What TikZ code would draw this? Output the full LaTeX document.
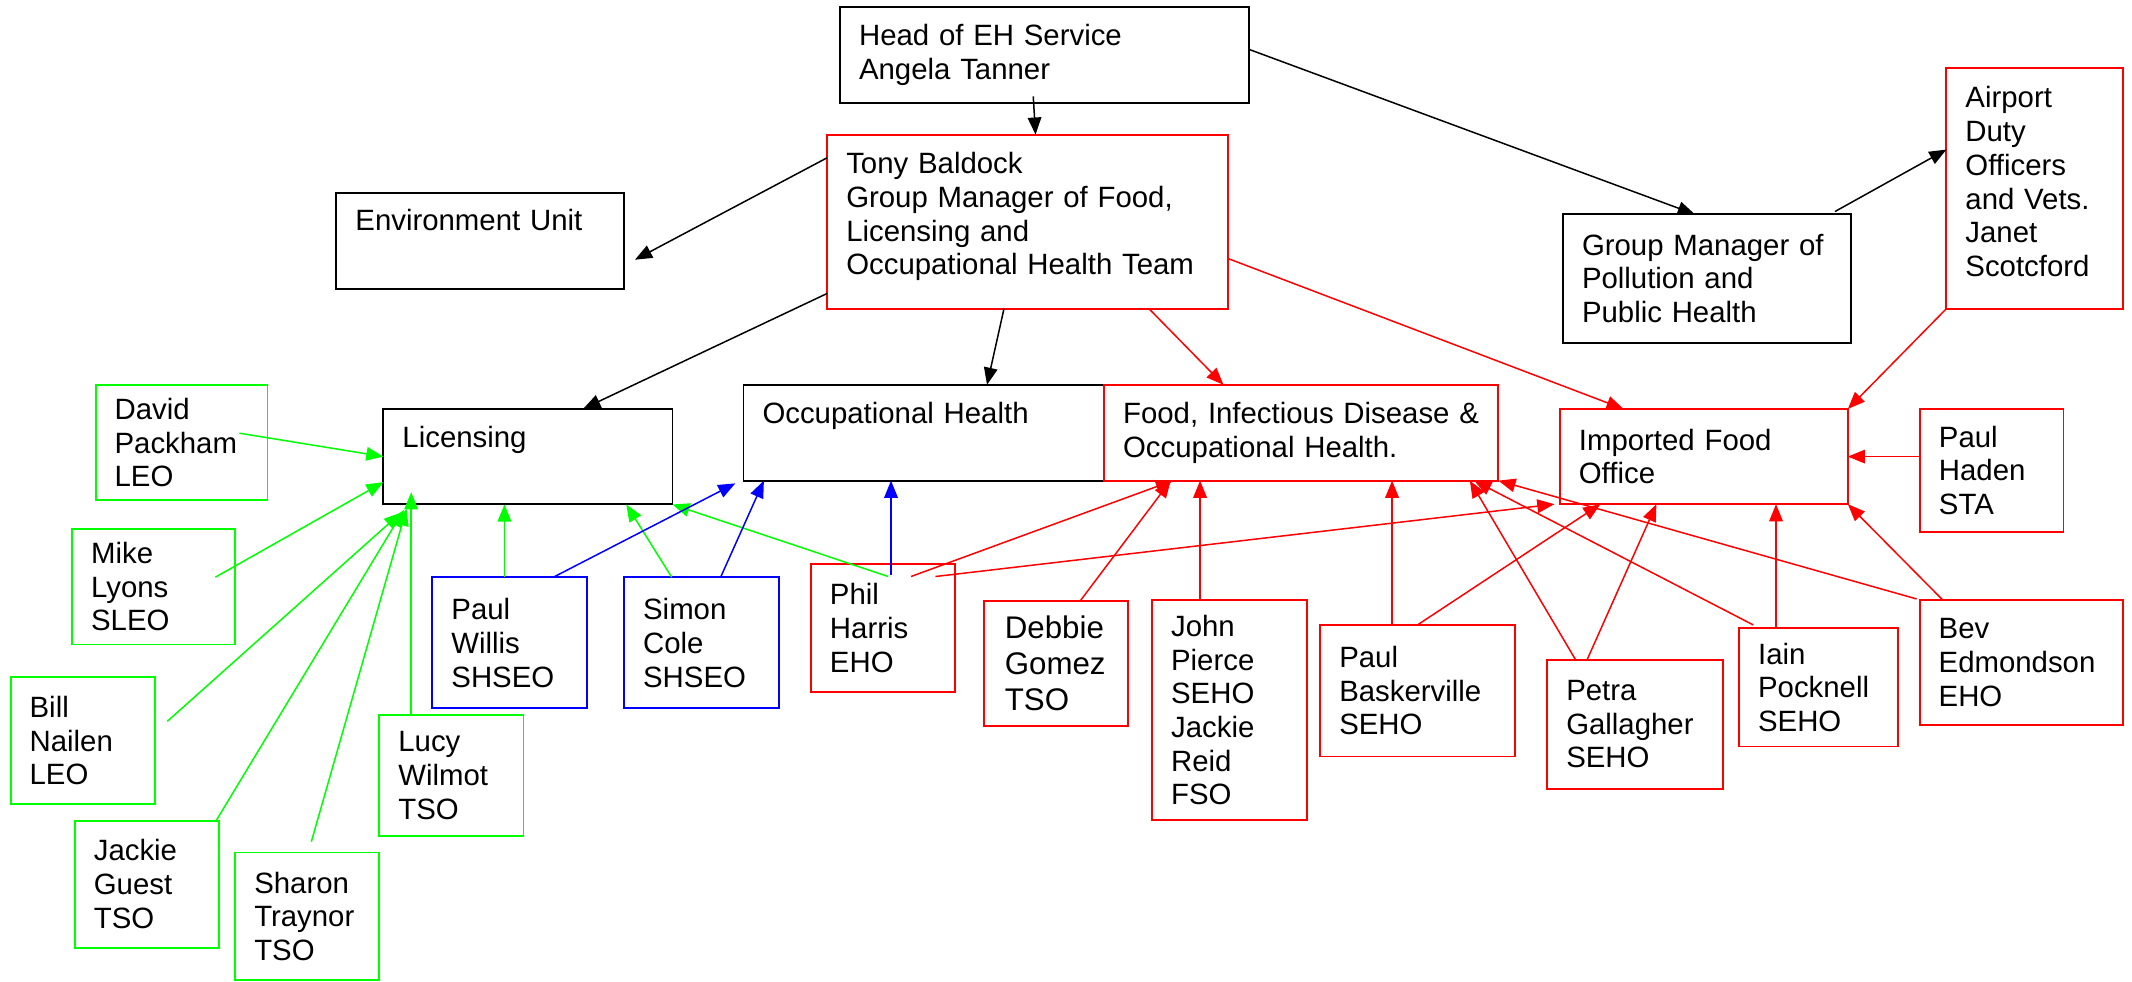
\documentclass[tikz,border=0pt]{standalone}
\usepackage{fontspec}
\setmainfont{Liberation Sans}
\usepackage{xcolor}
\usepackage{tikz}
\usetikzlibrary{positioning}
\usetikzlibrary{arrows.meta}

\begin{document}
\begin{tikzpicture}[
x=0.5pt, y=-0.5pt,
>={Triangle[length=6.3pt,width=5pt]},
blackbox/.style={rectangle, draw=black, line width=0.7pt, anchor=north west, align=left, inner xsep=7pt, inner ysep=2pt, outer sep=0pt, font=\fontsize{10.8}{12.4}\selectfont},
redbox/.style={blackbox, draw=red},
greenbox/.style={blackbox, draw=green},
bluebox/.style={blackbox, draw=blue},
blackline/.style={->, line width=0.55pt, black},
redline/.style={->, line width=0.55pt, red},
greenline/.style={->, line width=0.55pt, green},
blueline/.style={->, line width=0.55pt, blue},
]
\useasboundingbox (0,0) rectangle (1568,722);
%Nodes
\node[blackbox, text width=136.5pt, minimum height=35.5pt]		(head)		at (617.8,4.9)		{Head of EH Service\\Angela Tanner};
\node[redbox, text width=133.2pt, minimum height=64pt, text depth=43pt]	(tony)	at (608.4,99)		{Tony Baldock\\Group Manager of Food,\\Licensing and\\Occupational Health Team};
\node[blackbox, text width=91.8pt, minimum height=35.5pt, text depth=15.4pt]	(env)	at (247.4,141.7)	{Environment Unit};
\node[blackbox, text width=92pt, minimum height=47.2pt]			(gm)		at (1149.5,157.6)	{Group Manager of\\Pollution and\\Public Health};
\node[redbox, text width=51pt, minimum height=88.5pt, text depth=67pt]	(airport)	at (1431.5,50)		{Airport\\Duty\\Officers\\and Vets.\\Janet\\Scotcford};
\node[blackbox, text width=92.3pt, minimum height=35.2pt, text depth=14.3pt]	(lic)	at (282,300.6)		{Licensing};
\node[blackbox, text width=118.6pt, minimum height=35.25pt, text depth=14.5pt]	(oh)	at (546.8,283)		{Occupational Health};
\node[redbox, text width=131pt, minimum height=35.25pt]			(food)		[right=0pt of oh]	{Food, Infectious Disease \&\\Occupational Health.};
\node[redbox, text width=91.9pt, minimum height=35pt]			(imported)	at (1147.2,300.8)	{Imported Food\\Office};
\node[redbox, text width=38.8pt, minimum height=45.1pt]			(haden)		at (1412,300.8)		{Paul\\Haden\\STA};
\node[greenbox, text width=49.2pt, minimum height=42.5pt]		(david)		at (70.3,283)		{David\\Packham\\LEO};
\node[greenbox, text width=46pt, minimum height=42.5pt]			(mike)		at (53,389)			{Mike\\Lyons\\SLEO};
\node[greenbox, text width=39.1pt, minimum height=46.75pt]		(bill)		at (7.8,498)		{Bill\\Nailen\\LEO};
\node[greenbox, text width=39pt, minimum height=46.75pt]		(jackie)	at (55,603.5)		{Jackie\\Guest\\TSO};
\node[greenbox, text width=39pt, minimum height=47pt]			(sharon)	at (173,627)		{Sharon\\Traynor\\TSO};
\node[greenbox, text width=39pt, minimum height=44.7pt]			(lucy)		at (279,525.6)		{Lucy\\Wilmot\\TSO};
\node[bluebox, text width=43pt, minimum height=48.25pt]			(pwillis)	at (318,424.5)		{Paul\\Willis\\SHSEO};
\node[bluebox, text width=43pt, minimum height=48.25pt]			(simon)		[right=13.5pt of pwillis]	{Simon\\Cole\\SHSEO};
\node[redbox, text width=38.9pt, minimum height=47pt]			(phil)		at (596.4,415)		{Phil\\Harris\\EHO};
\node[redbox, text width=37.8pt, minimum height=46pt, inner xsep=7.5pt, font=\fontsize{11.5}{13.3}\selectfont]	(debbie)	at (724,442)	{Debbie\\Gomez\\TSO};
\node[redbox, text width=43pt, minimum height=80.75pt]			(john)		at (847.3,441.5)	{John\\Pierce\\SEHO\\Jackie\\Reid\\FSO};
\node[redbox, text width=57.5pt, minimum height=48.4pt]			(bask)		at (971,459.6)		{Paul\\Baskerville\\SEHO};
\node[redbox, text width=50.5pt, minimum height=47.35pt]		(petra)		at (1137.9,485.3)	{Petra\\Gallagher\\SEHO};
\node[redbox, text width=44.5pt, minimum height=43.5pt]			(iain)		at (1279,462)		{Iain\\Pocknell\\SEHO};
\node[redbox, text width=60.85pt, minimum height=45.7pt]		(bev)		at (1411.8,441.6)	{Bev\\Edmondson\\EHO};

%Lines
\draw[blackline] ([xshift=-4.2pt,yshift=2.5pt]head.south) -- ([xshift=3pt]tony.north);
\draw[blackline] ([yshift=2pt]head.east) -- ([xshift=-4.5pt]gm.north);
\draw[blackline] ([xshift=-6pt,yshift=1pt]gm.north east) -- ([yshift=14.25pt]airport.west);
\draw[blackline] ([yshift=-8.5pt]tony.north west) -- ([xshift=4pt,yshift=-6.9pt]env.east);
\draw[blackline] ([yshift=5.6pt]tony.south west) -- ([xshift=20.35pt]lic.north);
\draw[blackline] ([xshift=-8.6pt]tony.south) -- ([xshift=23.25pt]oh.north);
\draw[redline] ([xshift=-28.9pt]tony.south east) -- ([xshift=-28.6pt]food.north);
\draw[redline] ([yshift=-13.5pt]tony.east) -- ([xshift=-29.5pt]imported.north);
\draw[redline] (airport.south west) -- (imported.north east);
\draw[redline] (haden.west |- imported.east) -- (imported.east);

\draw[greenline] ([xshift=-10.3pt,yshift=3.45pt]david.east) -- (lic.west);
\draw[greenline] ([xshift=-7.3pt,yshift=3.5pt]mike.east) -- ([yshift=-9.4pt]lic.west);
\draw[greenline] ([xshift=4.5pt,yshift=7.1pt]bill.east) -- ([xshift=6.5pt,yshift=-3pt]lic.south west);
\draw[greenline] ([xshift=-1pt]jackie.north east) -- ([xshift=7.5pt,yshift=-2pt]lic.south west);
\draw[greenline] ([xshift=1.5pt,yshift=4pt]sharon.north) -- ([xshift=8.5pt,yshift=-1.5pt]lic.south west);
\draw[greenline] ([xshift=11.7pt]lucy.north west) -- ([xshift=11.7pt,yshift=4.5pt]lucy.north west |- lic.south);
\draw[greenline] ([xshift=26.5pt]pwillis.north west) -- ([xshift=26.5pt]pwillis.north west |- lic.south);
\draw[greenline] ([xshift=17.5pt]simon.north west) -- ([xshift=-17pt]lic.south east);
\draw[greenline] ([xshift=2pt,yshift=-4.5pt]phil.north) -- (lic.south east);

\draw[blueline] ([xshift=16pt]pwillis.north) -- ([xshift=-3pt,yshift=-1pt]oh.south west);
\draw[blueline] ([xshift=7pt]simon.north) -- ([xshift=7.5pt]oh.south west);
\draw[blueline] ([xshift=3pt,yshift=-4pt]phil.north) -- ([xshift=3pt]phil.north |- oh.south);

\draw[redline] ([xshift=10.35pt,yshift=-4.5pt]phil.north) -- ([xshift=25.3pt]food.south west);
\draw[redline] ([xshift=19.35pt,yshift=-4.5pt]phil.north) -- ([xshift=-2pt]imported.south west);
\draw[redline] ([xshift=8.8pt]debbie.north) -- ([xshift=24.5pt]food.south west);
\draw[redline] ([xshift=17.65pt]john.north west) -- ([xshift=17.65pt]john.north west |- food.south);
\draw[redline] ([xshift=-9.35pt]bask.north) -- ([xshift=-9.35pt]bask.north |- food.south);
\draw[redline] (bask.north) -- ([xshift=14.9pt]imported.south west);
\draw[redline] ([xshift=-21.8pt]petra.north) -- ([xshift=-10.5pt]food.south east);
\draw[redline] ([xshift=-17.6pt]petra.north) -- ([xshift=35.5pt]imported.south west);
\draw[redline] ([xshift=5.2pt,yshift=1.2pt]iain.north west) -- ([xshift=-8.9pt]food.south east);
\draw[redline] ([xshift=13.6pt]iain.north west) -- ([xshift=13.6pt]iain.north west |- imported.south);
\draw[redline] ([xshift=-1.1pt,yshift=0.55pt]bev.north west) -- (food.south east);
\draw[redline] ([xshift=8.65pt]bev.north west) -- (imported.south east);
\end{tikzpicture}
\end{document}
